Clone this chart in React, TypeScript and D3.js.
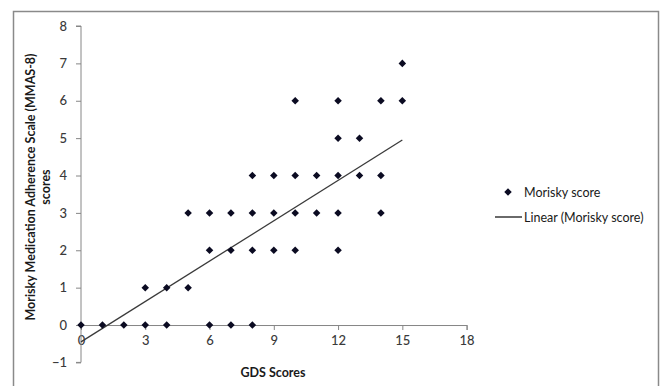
import React, { useEffect, useRef } from "react";
import * as d3 from "d3";

// points, grouped by score level
const gdsScores = [0, 1, 2, 3, 4, 6, 7, 8, 3, 4, 5, 6, 7, 8, 9, 10, 12, 5, 6, 7, 8, 9, 10, 11, 12, 14, 8, 9, 10, 11, 12, 13, 14, 12, 13, 10, 12, 14, 15, 15];
const moriskyScores = [0, 0, 0, 0, 0, 0, 0, 0, 1, 1, 1, 2, 2, 2, 2, 2, 2, 3, 3, 3, 3, 3, 3, 3, 3, 3, 4, 4, 4, 4, 4, 4, 4, 5, 5, 6, 6, 6, 6, 7];

// linear trend endpoints
const trendX = [0, 15];
const trendY = [-0.45, 4.95];

const xTicks = [0, 3, 6, 9, 12, 15, 18];
const yTicks = [-1, 0, 1, 2, 3, 4, 5, 6, 7, 8];

const width = 661;
const height = 386;
const font = "Lato, 'Open Sans', sans-serif";

export default function App() {
  const ref = useRef<SVGSVGElement>(null);

  useEffect(() => {
    const svg = d3.select(ref.current);
    svg.selectAll("*").remove();

    // outer frame
    svg.append("rect")
      .attr("x", 13.5).attr("y", 11.5)
      .attr("width", 645).attr("height", 400)
      .attr("fill", "white").attr("stroke", "#8a8a8a").attr("stroke-width", 1.5);

    const xScale = d3.scaleLinear().domain([0, 18]).range([81, 466.6]);
    const yScale = d3.scaleLinear().domain([-1, 8]).range([362.4, 26]);

    const g = svg.append("g");

    // x axis drawn at y = 0
    const xAxis = d3.axisBottom(xScale).tickValues(xTicks).tickSize(5).tickPadding(6).tickFormat(d3.format("d"));
    const xg = g.append("g").attr("transform", `translate(0,${yScale(0)})`).call(xAxis);
    const yAxis = d3.axisLeft(yScale).tickValues(yTicks).tickSize(5).tickPadding(9).tickFormat(d3.format("d"));
    const yg = g.append("g").attr("transform", `translate(${xScale(0)},0)`).call(yAxis);

    [xg, yg].forEach(a => {
      a.select(".domain").attr("stroke", "#868686").attr("stroke-width", 1);
      a.selectAll(".tick line").attr("stroke", "#868686");
      a.selectAll(".tick text")
        .attr("fill", "#3a3a3a")
        .style("font-family", font)
        .style("font-size", "13px")
        .style("font-weight", "500");
    });
    yg.select(".domain").attr("d", `M-5,${yScale(8)}H0V${yScale(-1)}H-5`);

    // trend line
    const line = d3.line<number>()
      .x((d, i) => xScale(trendX[i]))
      .y(d => yScale(d));
    g.append("path")
      .attr("d", line(trendY))
      .attr("fill", "none")
      .attr("stroke", "#3a3a3a")
      .attr("stroke-width", 1.3);

    // points
    const diamond = d3.symbol().type(d3.symbolDiamond2).size(36);
    g.selectAll(".pt").data(gdsScores).join("path")
      .attr("class", "pt")
      .attr("d", diamond)
      .attr("transform", (d, i) => `translate(${xScale(d)},${yScale(moriskyScores[i])})`)
      .attr("fill", "#0b0b22");

    // axis titles
    svg.append("text")
      .attr("x", 273).attr("y", 377)
      .attr("text-anchor", "middle")
      .style("font-family", font).style("font-size", "12.5px").style("font-weight", "bold")
      .attr("fill", "#1a1a1a")
      .text("GDS Scores");

    const yt = svg.append("text")
      .attr("transform", "translate(35,187) rotate(-90)")
      .attr("text-anchor", "middle")
      .style("font-family", font).style("font-size", "12.5px").style("font-weight", "bold")
      .attr("fill", "#1a1a1a");
    yt.append("tspan").attr("x", 0).attr("y", 0).text("Morisky Medication Adherence Scale  (MMAS-8)");
    yt.append("tspan").attr("x", 0).attr("y", 15).text("scores");

    // legend
    const lg = svg.append("g");
    lg.append("path").attr("d", diamond).attr("transform", "translate(508,192)").attr("fill", "#0b0b22");
    lg.append("text").attr("x", 524).attr("y", 196.5)
      .style("font-family", font).style("font-size", "12.5px").attr("fill", "#1a1a1a")
      .text("Morisky score");
    lg.append("line").attr("x1", 495).attr("x2", 522).attr("y1", 217).attr("y2", 217)
      .attr("stroke", "#1a1a1a").attr("stroke-width", 1.3);
    lg.append("text").attr("x", 524).attr("y", 221.5)
      .style("font-family", font).style("font-size", "12.5px").attr("fill", "#1a1a1a")
      .text("Linear (Morisky score)");
  }, []);

  return (
    <div style={{ position: "absolute", left: 0, top: 0 }}>
      <svg ref={ref} width={width} height={height}></svg>
    </div>
  );
}
